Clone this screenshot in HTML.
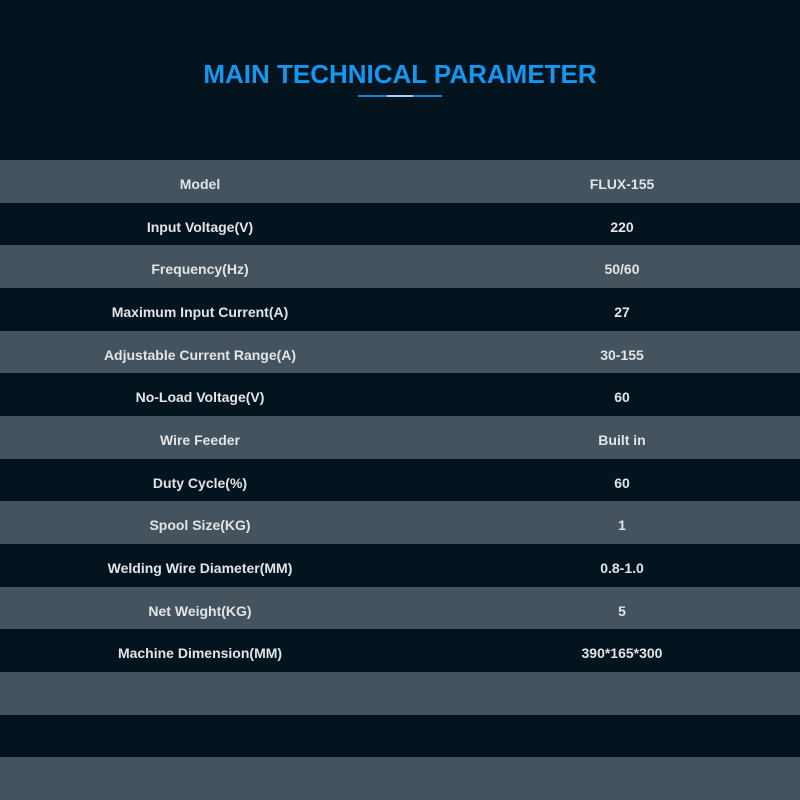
<!DOCTYPE html>
<html><head><style>
body{margin:0;width:800px;height:800px;background:#03141f;overflow:hidden;font-family:"Liberation Sans",sans-serif}
.t{position:absolute;top:59px;left:0;width:800px;text-align:center;color:#1497f0;font-weight:bold;font-size:26px}
.r{position:absolute;left:0;width:800px;height:43px;color:#e2e4e6;font-weight:bold;font-size:14px}
.r span{position:absolute;top:16px;width:400px;text-align:center;line-height:16px}
</style></head><body>
<div class="t">MAIN TECHNICAL PARAMETER</div>
<div style="position:absolute;left:358px;top:95px;width:84px;height:2px;background:#1f7fc8"></div>
<div style="position:absolute;left:387px;top:95px;width:26px;height:2px;background:#9fd4f5"></div>
<div id="rows"></div>
<script>
var d=[["Model","FLUX-155"],["Input Voltage(V)","220"],["Frequency(Hz)","50/60"],["Maximum Input Current(A)","27"],["Adjustable Current Range(A)","30-155"],["No-Load Voltage(V)","60"],["Wire Feeder","Built in"],["Duty Cycle(%)","60"],["Spool Size(KG)","1"],["Welding Wire Diameter(MM)","0.8-1.0"],["Net Weight(KG)","5"],["Machine Dimension(MM)","390*165*300"],["",""],["",""],["",""]];
var h="";for(var i=0;i<15;i++){var y=160+i*42.67;h+='<div class="r" style="top:'+y+'px;background:'+(i%2?'#03141f':'#44535e')+'"><span style="left:0">'+d[i][0]+'</span><span style="left:422px">'+d[i][1]+'</span></div>';}
document.getElementById("rows").innerHTML=h;
</script>
</body></html>
